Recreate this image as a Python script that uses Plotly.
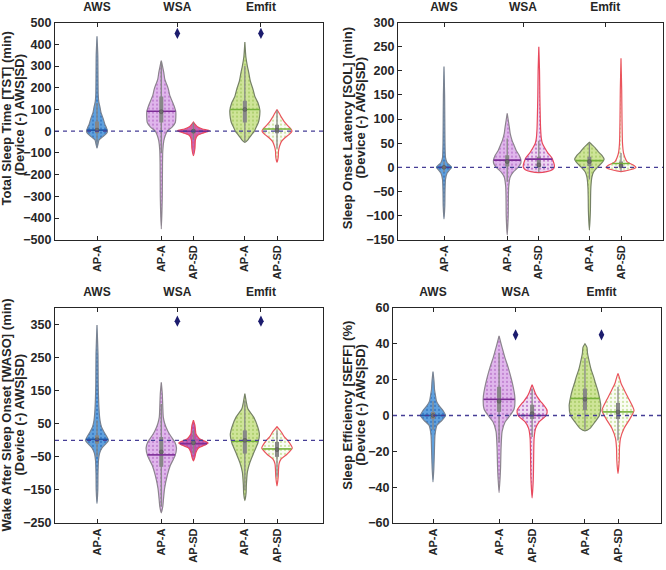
import numpy as np
import plotly.graph_objects as go

W, H = 666, 570

# ---------------- data ----------------
positions = [1, 3, 4, 5.6, 6.6]
violin_labels = ["AP-A", "AP-A", "AP-SD", "AP-A", "AP-SD"]
group_positions = [1, 3.5, 6.1]
group_labels = ["AWS", "WSA", "Emfit"]

# violin density profiles: (value, relative half-width)
tst_profiles = [
    [(-78, 0), (-60, 1), (-40, 2), (-25, 6), (-10, 9.5), (0, 10.5), (15, 9.5), (30, 8), (60, 6), (85, 4),
     (110, 3), (135, 1.8), (170, 1.2), (250, 1), (350, 0.8), (437, 0)],
    [(-450, 0), (-300, 1), (-150, 1.2), (-90, 1.5), (-45, 2.5), (-20, 4), (0, 6), (20, 11), (40, 14),
     (90, 14.5), (120, 12.5), (165, 8.5), (195, 7), (240, 3.5), (270, 2.5), (300, 1.2), (325, 0)],
    [(-113, 0), (-80, 1.5), (-40, 2), (-20, 4), (-8, 10), (2, 16), (10, 9), (20, 4), (30, 2), (42, 0)],
    [(-52, 0), (-40, 3), (-30, 4.5), (-15, 7), (0, 9.5), (15, 11), (40, 13.5), (60, 14.5), (96, 15),
     (132, 13), (160, 10), (195, 8), (230, 5.5), (267, 4), (300, 2.5), (343, 1), (410, 0)],
    [(-143, 0), (-120, 1.2), (-92, 1.5), (-70, 2.5), (-47, 4.5), (-30, 8), (-16, 12), (0, 15), (10, 14),
     (29, 10), (45, 7), (60, 5), (80, 2.5), (100, 0)],
]
sol_profiles = [
    [(-107, 0), (-80, 0.8), (-50, 1), (-25, 1.5), (-12, 3), (-4, 6), (0, 7.5), (4, 6), (10, 3), (20, 1.5),
     (50, 1), (100, 0.8), (150, 0.6), (209, 0)],
    [(-140, 0), (-100, 1), (-60, 1.2), (-40, 1.5), (-20, 3), (-10, 6), (0, 11), (8, 13.5), (15, 13.7),
     (25, 12), (35, 9), (45, 7), (55, 5), (70, 3), (85, 2), (112, 0)],
    [(-11, 0), (-9, 8), (-5, 13.5), (0, 15.5), (5, 15.5), (12, 14.5), (20, 13), (30, 9), (40, 6), (50, 3.5),
     (60, 2.5), (80, 1.8), (100, 1.5), (150, 1), (200, 0.7), (250, 0)],
    [(-130, 0), (-90, 1), (-60, 1.2), (-40, 1.5), (-20, 2.5), (-10, 4), (0, 8), (8, 12), (17, 14.7),
     (25, 12.5), (32, 9), (40, 6), (46, 3), (52, 0)],
    [(-9, 0), (-7, 5), (-4, 11), (0, 15), (4, 13), (8, 9), (12, 6), (20, 4), (30, 2.5), (50, 1.5),
     (100, 1), (160, 0.7), (226, 0)],
]
waso_profiles = [
    [(-191, 0), (-150, 0.8), (-100, 1), (-60, 1.5), (-40, 2.5), (-23, 5), (-10, 9), (0, 11.5), (10, 10),
     (25, 7), (40, 4.5), (60, 3), (95, 2), (170, 1.2), (260, 1), (348, 0)],
    [(-219, 0), (-200, 1.5), (-184, 2), (-145, 3.3), (-106, 6), (-76, 9), (-47, 13.7), (-23, 15.2),
     (-5, 13.5), (3, 11.7), (20, 8), (31, 6), (50, 3.5), (70, 2), (100, 1.5), (140, 1), (175, 0)],
    [(-62, 0), (-50, 1.5), (-37, 2.5), (-23, 5), (-15, 11), (-8, 14.7), (-2, 11), (5, 6), (12, 4),
     (20, 2.5), (32, 2), (45, 1.5), (61, 0)],
    [(-182, 0), (-160, 1.2), (-135, 1.5), (-96, 2.5), (-67, 5), (-37, 9), (-8, 13), (17, 14.6),
     (41, 12.8), (70, 8.8), (95, 3), (115, 1.5), (141, 0)],
    [(-138, 0), (-110, 1.2), (-90, 1.5), (-71, 2), (-57, 4), (-42, 10), (-23, 15.3), (-10, 13), (2, 10),
     (12, 7), (22, 5), (32, 2.5), (41, 0)],
]
seff_profiles = [
    [(-37, 0), (-30, 0.8), (-18, 1.5), (-10.8, 2), (-5.4, 4), (-2.7, 9), (0, 12.5), (2.8, 10), (5.5, 6),
     (8, 3.5), (11, 2.5), (14.5, 1.5), (19, 1), (24.5, 0)],
    [(-43, 0), (-35, 1), (-29, 1.5), (-18, 2), (-9, 3), (-3.6, 6), (0, 11), (3.6, 15), (10, 15.8),
     (18, 13.3), (27, 9), (32, 6), (36, 4), (40, 2), (44.4, 0)],
    [(-46, 0), (-35, 1.2), (-25, 1.5), (-12.7, 2), (-7.2, 3.5), (-3.6, 7), (0, 14), (2.8, 15), (5.5, 12),
     (8.2, 8), (10.5, 5), (12.7, 3), (15, 1.5), (17.2, 0)],
    [(-8.6, 0), (-7.2, 5), (-3.6, 10), (0, 14.5), (5.5, 15.8), (10, 14.5), (14.5, 12.5), (18, 10.5),
     (21.8, 8.5), (26, 6), (30.8, 4), (35, 2.5), (38, 2), (40, 0)],
    [(-32.5, 0), (-25, 1.2), (-18, 1.5), (-12.7, 2.5), (-7.2, 6), (-1.8, 12), (2.8, 16), (9, 11),
     (14.5, 6), (18, 3), (21, 1.5), (23.5, 0)],
]

# box statistics per violin
tst_q1 = [-10, 40, -10, 40, -10]
tst_q3 = [45, 160, 10, 140, 30]
tst_wlo = [-60, -100, -40, -50, -80]
tst_whi = [130, 320, 40, 300, 95]
tst_median = [5, 90, 0, 100, 5]
tst_mean = [5, 92, 0, 100, 10]

sol_q1 = [-3, 2, 0, 3, 0]
sol_q3 = [3, 25, 22, 22, 12]
sol_wlo = [-10, -30, -10, -25, -8]
sol_whi = [12, 60, 55, 50, 30]
sol_median = [0, 12, 5, 12, 3]
sol_mean = [0, 15, 17, 14, 8]

waso_q1 = [-10, -80, -15, -40, -50]
waso_q3 = [15, 10, 3, 30, -5]
waso_wlo = [-50, -200, -40, -150, -110]
waso_whi = [60, 110, 30, 120, 30]
waso_median = [2, -35, -7, 0, -28]
waso_mean = [3, -44, -10, -3, -26]

seff_q1 = [-2, 2, -2, 3, -2]
seff_q3 = [2, 16, 6, 15, 7]
seff_wlo = [-8, -15, -12, -8, -14]
seff_whi = [8, 35, 15, 32, 16]
seff_median = [0, 8, 1, 9, 2]
seff_mean = [0, 9, 0, 9.5, 2]

# significance markers (diamonds) above WSA and Emfit
tst_marker = 450
sol_marker = None
waso_marker = 360
seff_marker = 45

titles = [
    ("Total Sleep Time [TST] (min)", "(Device (-) AWS|SD)"),
    ("Sleep Onset Latency [SOL] (min)", "(Device (-) AWS|SD)"),
    ("Wake After Sleep Onset [WASO] (min)", "(Device (-) AWS|SD)"),
    ("Sleep Efficiency [SEFF] (%)", "(Device (-) AWS|SD)"),
]

# ---------------- styles ----------------
AX = "rgb(38,38,38)"
FONT = "Liberation Sans, Arial, Helvetica, sans-serif"
panels = [
    dict(left=55, right=323, top=15, bottom=238, first=97, last=277, yr=[-500, 500],
         tv=list(range(-500, 501, 100)), prof=tst_profiles, q1=tst_q1, q3=tst_q3, wlo=tst_wlo, whi=tst_whi,
         med=tst_median, mean=tst_mean, mk=tst_marker, t1=(6.5, 114), t2=(19.5, 110), sdfill="rgb(212,92,160)"),
    dict(left=398, right=663, top=15, bottom=238, first=444, last=621, yr=[-150, 300],
         tv=list(range(-150, 301, 50)), prof=sol_profiles, q1=sol_q1, q3=sol_q3, wlo=sol_wlo, whi=sol_whi,
         med=sol_median, mean=sol_mean, mk=sol_marker, t1=(347.5, 124), t2=(360.5, 113), sdfill="rgb(238,214,242)"),
    dict(left=55, right=323, top=308, bottom=529, first=97, last=277, yr=[-250, 400],
         tv=list(range(-250, 351, 100)), prof=waso_profiles, q1=waso_q1, q3=waso_q3, wlo=waso_wlo,
         whi=waso_whi, med=waso_median, mean=waso_mean, mk=waso_marker, t1=(6.5, 418), t2=(19.5, 418),
         sdfill="rgb(190,80,165)"),
    dict(left=393, right=661, top=308, bottom=529, first=433, last=618, yr=[-60, 60],
         tv=list(range(-60, 61, 20)), prof=seff_profiles, q1=seff_q1, q3=seff_q3, wlo=seff_wlo,
         whi=seff_whi, med=seff_median, mean=seff_mean, mk=seff_marker, t1=(347.5, 408), t2=(360.5, 408),
         sdfill="rgb(240,220,244)"),
]

fills = [
    dict(bg="rgb(95,160,222)", fg="rgb(55,120,195)", edge="rgb(120,130,145)", mean="rgb(30,90,170)"),
    dict(bg="rgb(224,182,236)", fg="rgb(190,125,206)", edge="rgb(140,132,142)", mean="rgb(125,45,150)"),
    dict(bg=None, fg="rgb(185,110,200)", edge="rgb(232,72,92)", mean="rgb(125,45,150)"),
    dict(bg="rgb(206,228,152)", fg="rgb(170,205,105)", edge="rgb(118,130,102)", mean="rgb(118,178,58)"),
    dict(bg="rgb(250,252,244)", fg="rgb(200,226,155)", edge="rgb(234,84,92)", mean="rgb(118,178,58)"),
]

fig = go.Figure()
layout = dict(width=W, height=H, margin=dict(l=0, r=0, t=0, b=0), paper_bgcolor="white",
              plot_bgcolor="white", showlegend=False, hovermode=False,
              font=dict(family=FONT, color=AX))
shapes, annotations = [], []


def name(prefix, n):
    return prefix if n == 1 else f"{prefix}{n}"


for i, p in enumerate(panels):
    nb, nt, ny = 2 * i + 1, 2 * i + 2, i + 1
    xb, xt, yr = name("x", nb), name("x", nt), name("y", ny)
    unit = (p["last"] - p["first"]) / (positions[-1] - positions[0])
    xrange = [positions[0] - (p["first"] - p["left"]) / unit, positions[0] + (p["right"] - p["first"]) / unit]
    xdom = [p["left"] / W, p["right"] / W]
    ydom = [1 - p["bottom"] / H, 1 - p["top"] / H]

    layout[name("xaxis", nb)] = dict(domain=xdom, anchor=yr, range=xrange, tickvals=positions,
                                     ticktext=violin_labels, tickangle=-90, ticks="inside", ticklen=4,
                                     tickcolor=AX, showline=True, linecolor=AX, linewidth=1.2,
                                     showgrid=False, zeroline=False,
                                     tickfont=dict(size=11, weight="bold", color=AX, family=FONT))
    layout[name("xaxis", nt)] = dict(overlaying=xb, side="top", anchor=yr, range=xrange,
                                     tickvals=group_positions, ticktext=group_labels, ticks="inside",
                                     ticklen=4, tickcolor=AX, showline=True, linecolor=AX, linewidth=1.2,
                                     showgrid=False, zeroline=False, ticklabelstandoff=6,
                                     tickfont=dict(size=12, weight="bold", color=AX, family=FONT))
    layout[name("yaxis", ny)] = dict(domain=ydom, anchor=xb, range=p["yr"], tickvals=p["tv"],
                                     ticks="inside", ticklen=4, tickcolor=AX, showline=True, mirror=True,
                                     linecolor=AX, linewidth=1.2, showgrid=False, zeroline=False,
                                     tickfont=dict(size=12.5, weight="bold", color=AX, family=FONT))

    for j, prof in enumerate(p["prof"]):
        f = fills[j]
        bg = f["bg"] if f["bg"] else p["sdfill"]
        ys = [v for v, _ in prof]
        ws = [w / unit for _, w in prof]
        pos = positions[j]
        xs = [pos + w for w in ws] + [pos - w for w in ws[::-1]]
        yy = ys + ys[::-1]
        fig.add_trace(go.Scatter(x=xs, y=yy, xaxis=xb, yaxis=yr, mode="lines", fill="toself",
                                 fillcolor=bg, line=dict(color=f["edge"], width=1.2, shape="spline",
                                                         smoothing=0.6),
                                 fillpattern=dict(shape=".", fgcolor=f["fg"], bgcolor=bg, size=4,
                                                  solidity=0.22, fillmode="replace"),
                                 hoverinfo="skip"))
        # whisker + IQR box
        fig.add_trace(go.Scatter(x=[pos, pos], y=[p["wlo"][j], p["whi"][j]], xaxis=xb, yaxis=yr,
                                 mode="lines", line=dict(color="rgb(135,135,135)", width=1.3),
                                 hoverinfo="skip"))
        fig.add_trace(go.Scatter(x=[pos, pos], y=[p["q1"][j], p["q3"][j]], xaxis=xb, yaxis=yr,
                                 mode="lines", line=dict(color="rgb(135,135,135)", width=4),
                                 hoverinfo="skip"))
        # mean line across the violin width
        mw = float(np.interp(p["mean"][j], ys, ws))
        fig.add_trace(go.Scatter(x=[pos - mw, pos + mw], y=[p["mean"][j]] * 2, xaxis=xb, yaxis=yr,
                                 mode="lines", line=dict(color=f["mean"], width=1.6), hoverinfo="skip"))
        fig.add_trace(go.Scatter(x=[pos], y=[p["med"][j]], xaxis=xb, yaxis=yr, mode="markers",
                                 marker=dict(size=4, color="rgb(110,110,110)",
                                             line=dict(color="rgb(80,80,80)", width=0.5)),
                                 hoverinfo="skip"))

    # top axis trace (diamonds or invisible anchor)
    if p["mk"] is not None:
        fig.add_trace(go.Scatter(x=group_positions[1:], y=[p["mk"]] * 2, xaxis=xt, yaxis=yr,
                                 mode="markers", marker=dict(symbol="diamond-tall", size=8,
                                                             color="rgb(28,28,110)"),
                                 hoverinfo="skip"))
    else:
        fig.add_trace(go.Scatter(x=group_positions, y=[0] * 3, xaxis=xt, yaxis=yr, mode="markers",
                                 marker=dict(opacity=0), hoverinfo="skip"))

    shapes.append(dict(type="line", xref=f"{xb} domain", x0=0, x1=1, yref=yr, y0=0, y1=0, layer="above",
                       line=dict(color="rgb(70,62,150)", width=1.3, dash="4px,4px")))

    for (tx, ty), txt in zip([p["t1"], p["t2"]], titles[i]):
        annotations.append(dict(text=txt, x=tx / W, y=1 - ty / H, xref="paper", yref="paper",
                                xanchor="center", yanchor="middle", textangle=-90, showarrow=False,
                                font=dict(size=13, weight="bold", color=AX, family=FONT)))

layout["shapes"] = shapes
layout["annotations"] = annotations
fig.update_layout(**layout)
fig.write_html("out.html")
